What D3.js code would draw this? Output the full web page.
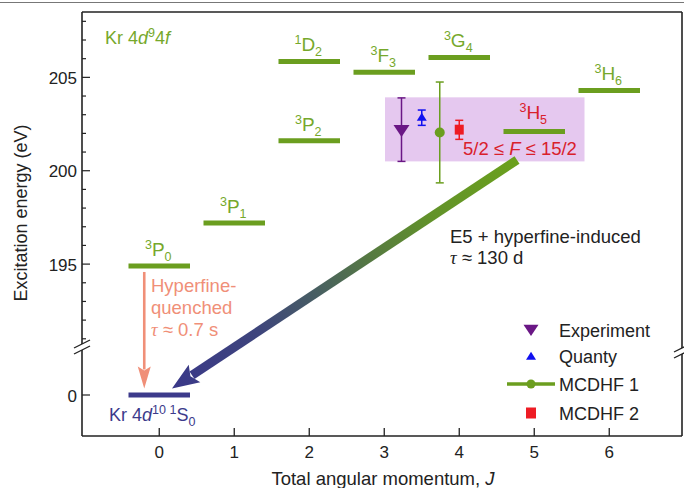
<!DOCTYPE html>
<html>
<head>
<meta charset="utf-8">
<script src="https://cdn.jsdelivr.net/npm/d3@7"></script>
<style>
body { margin: 0; background: #fff; }
svg { display: block; font-family: "Liberation Sans", Arial, sans-serif; }
</style>
</head>
<body>
<svg width="684" height="488"></svg>
<script>
// Kr 4d9 4f levels (J, energy in eV) and term symbols
const levelJ = [0, 1, 2, 2, 3, 4, 5, 6];
const levelEnergy = [194.9, 197.2, 201.6, 205.85, 205.27, 206.07, 202.1, 204.3];
const levelSup = ["3", "3", "3", "1", "3", "3", "3", "3"];
const levelLetter = ["P", "P", "P", "D", "F", "G", "H", "H"];
const levelSub = ["0", "1", "2", "2", "3", "4", "5", "6"];

// 3H5 energy determinations
const seriesNames = ["Experiment", "Quanty", "MCDHF 1", "MCDHF 2"];
const seriesJ = [3.23, 3.5, 3.74, 4.0];
const seriesEnergy = [202.15, 202.88, 202.05, 202.2];
const seriesLow = [200.5, 202.43, 199.35, 201.68];
const seriesHigh = [203.9, 203.25, 204.75, 202.7];

// shaded band for 3H5
const bandJ = [3.01, 5.67];
const bandEnergy = [200.5, 203.93];

// axis ticks
const xTicks = [0, 1, 2, 3, 4, 5, 6];
const yTicksMajor = [195, 200, 205];
const yTicksLow = [0];

const svg = d3.select("svg");
const pLeft = 82, pRight = 682, pTop = 12, pBottom = 436;
const breakLeftY = 347, breakRightY = 351;

const green = "#6b9e1f", greenText = "#76a82b", navy = "#3c3a8b",
    salmon = "#f08f78", purple = "#6a1785", red = "#d9202b";

const x = d3.scaleLinear().domain([-1.03, 6.97]).range([pLeft, pRight]);
const yTop = d3.scaleLinear().domain([190.4, 208.5]).range([350, pTop]);
const yLow = d3.scaleLinear().domain([-2.2, 2.2]).range([pBottom, 354]);

// rule above figure
svg.append("line").attr("x1", 0).attr("x2", 684).attr("y1", 2.5).attr("y2", 2.5)
    .attr("stroke", "#777").attr("stroke-width", 1.2);

// band
svg.append("rect")
    .attr("x", x(bandJ[0])).attr("y", yTop(bandEnergy[1]))
    .attr("width", x(bandJ[1]) - x(bandJ[0]))
    .attr("height", yTop(bandEnergy[0]) - yTop(bandEnergy[1]))
    .attr("fill", "#e5c8ef");

// frame
const frame = svg.append("g").attr("stroke", "#222").attr("stroke-width", 1.6).attr("fill", "none");
frame.append("line").attr("x1", pLeft).attr("x2", pRight).attr("y1", pTop).attr("y2", pTop);
frame.append("line").attr("x1", pLeft).attr("x2", pRight).attr("y1", pBottom).attr("y2", pBottom);
frame.append("line").attr("x1", pLeft).attr("x2", pLeft).attr("y1", pTop).attr("y2", breakLeftY - 3);
frame.append("line").attr("x1", pLeft).attr("x2", pLeft).attr("y1", breakLeftY + 3).attr("y2", pBottom);
frame.append("line").attr("x1", pRight).attr("x2", pRight).attr("y1", pTop).attr("y2", breakRightY - 3);
frame.append("line").attr("x1", pRight).attr("x2", pRight).attr("y1", breakRightY + 3).attr("y2", pBottom);
[[pLeft, breakLeftY], [pRight, breakRightY]].forEach(([bx, by]) => {
    [-3, 3].forEach(o => {
        frame.append("line")
            .attr("x1", bx - 8).attr("y1", by + o + 4)
            .attr("x2", bx + 8).attr("y2", by + o - 4)
            .attr("stroke-width", 1.3);
    });
});

// x ticks
const xAxis = svg.append("g");
xAxis.selectAll("line").data(xTicks).enter().append("line")
    .attr("x1", d => x(d)).attr("x2", d => x(d))
    .attr("y1", pBottom).attr("y2", pBottom - 8)
    .attr("stroke", "#222").attr("stroke-width", 1.3);
xAxis.selectAll("text").data(xTicks).enter().append("text")
    .attr("x", d => x(d)).attr("y", 458)
    .attr("text-anchor", "middle").attr("font-size", 17).attr("fill", "#222")
    .text(d => d);

// y ticks (upper segment)
const yMinor = yTop.ticks(20).filter(d => d > 190.5);
svg.append("g").selectAll("line").data(yMinor).enter().append("line")
    .attr("x1", pLeft).attr("x2", d => pLeft + (yTicksMajor.includes(d) ? 8 : 4))
    .attr("y1", d => yTop(d)).attr("y2", d => yTop(d))
    .attr("stroke", "#222").attr("stroke-width", 1.2);
svg.append("g").selectAll("text").data(yTicksMajor).enter().append("text")
    .attr("x", 77).attr("y", d => yTop(d) + 6.5)
    .attr("text-anchor", "end").attr("font-size", 17).attr("fill", "#222")
    .text(d => d);
// lower segment
svg.append("g").selectAll("line").data(yTicksLow).enter().append("line")
    .attr("x1", pLeft).attr("x2", pLeft + 8)
    .attr("y1", d => yLow(d)).attr("y2", d => yLow(d))
    .attr("stroke", "#222").attr("stroke-width", 1.2);
svg.append("g").selectAll("text").data(yTicksLow).enter().append("text")
    .attr("x", 77).attr("y", d => yLow(d) + 6.5)
    .attr("text-anchor", "end").attr("font-size", 17).attr("fill", "#222")
    .text(d => d);

// axis titles
svg.append("text")
    .attr("transform", "translate(27,213) rotate(-90)")
    .attr("text-anchor", "middle").attr("font-size", 18).attr("fill", "#222")
    .text("Excitation energy (eV)");
const xt = svg.append("text")
    .attr("x", 383).attr("y", 485)
    .attr("text-anchor", "middle").attr("font-size", 18.5).attr("fill", "#222");
xt.append("tspan").text("Total angular momentum, ");
xt.append("tspan").attr("font-style", "italic").text("J");

// level bars
const halfW = 0.41;
svg.append("g").selectAll("line").data(levelJ).enter().append("line")
    .attr("x1", d => x(d - halfW)).attr("x2", d => x(d + halfW))
    .attr("y1", (d, i) => yTop(levelEnergy[i])).attr("y2", (d, i) => yTop(levelEnergy[i]))
    .attr("stroke", green).attr("stroke-width", 5);

// term labels
function term(cx, cy, sup, letter, sub, color) {
    const t = svg.append("text").attr("x", cx).attr("y", cy)
        .attr("text-anchor", "middle").attr("fill", color).attr("font-size", 19);
    t.append("tspan").attr("font-size", 12.5).attr("dy", -7).text(sup);
    t.append("tspan").attr("dy", 7).text(letter);
    t.append("tspan").attr("font-size", 12.5).attr("dy", 5).text(sub);
    return t;
}
levelJ.forEach((j, i) => {
    const isH5 = levelLetter[i] === "H" && levelSub[i] === "5";
    term(x(j) - 1, yTop(levelEnergy[i]) - (isH5 ? 13 : 10),
        levelSup[i], levelLetter[i], levelSub[i], isH5 ? red : greenText);
});

// ground state
svg.append("line")
    .attr("x1", x(0 - halfW)).attr("x2", x(0 + halfW))
    .attr("y1", yLow(0)).attr("y2", yLow(0))
    .attr("stroke", navy).attr("stroke-width", 5);

// arrows
function arrow(x0, y0, x1, y1, width, headLen, headW, stroke) {
    const dx = x1 - x0, dy = y1 - y0, len = Math.hypot(dx, dy);
    const ux = dx / len, uy = dy / len, px = -uy, py = ux;
    const bx = x1 - ux * headLen, by = y1 - uy * headLen;
    svg.append("line")
        .attr("x1", x0).attr("y1", y0)
        .attr("x2", bx + ux * 3).attr("y2", by + uy * 3)
        .attr("stroke", stroke).attr("stroke-width", width);
    const nx = x1 - ux * headLen * 0.82, ny = y1 - uy * headLen * 0.82;
    svg.append("path")
        .attr("d", `M${x1},${y1} L${bx + px * headW / 2},${by + py * headW / 2} L${nx},${ny} L${bx - px * headW / 2},${by - py * headW / 2} Z`)
        .attr("fill", stroke);
}

// E5 decay arrow with green-to-navy gradient
const e5Start = { j: 4.77, e: 200.58 }, e5End = { j: 0.17, e: 0.35 };
const grad = svg.append("defs").append("linearGradient")
    .attr("id", "e5grad").attr("gradientUnits", "userSpaceOnUse")
    .attr("x1", x(e5Start.j)).attr("y1", yTop(e5Start.e))
    .attr("x2", x(e5End.j)).attr("y2", yLow(e5End.e));
[[0, "#6ba01d"], [0.25, "#62922a"], [0.42, "#567a40"], [0.58, "#485f62"], [0.75, "#3e457c"], [1, "#3a3889"]]
    .forEach(([o, c]) => grad.append("stop").attr("offset", o).attr("stop-color", c));
arrow(x(e5Start.j), yTop(e5Start.e), x(e5End.j), yLow(e5End.e), 9, 27, 21, "url(#e5grad)");

// hyperfine-quenched arrow
arrow(x(-0.2), yTop(levelEnergy[0]) + 6, x(-0.2), yLow(0.35), 2.6, 22, 13, salmon);

// band measurements: error bars
const capW = 4;
const seriesColor = [purple, "#1010f0", green, "#ee1c24"];
seriesJ.forEach((j, i) => {
    const g = svg.append("g").attr("stroke", seriesColor[i]).attr("stroke-width", 1.5);
    g.append("line").attr("x1", x(j)).attr("x2", x(j))
        .attr("y1", yTop(seriesHigh[i])).attr("y2", yTop(seriesLow[i]));
    [seriesHigh[i], seriesLow[i]].forEach(v => g.append("line")
        .attr("x1", x(j) - capW).attr("x2", x(j) + capW)
        .attr("y1", yTop(v)).attr("y2", yTop(v)));
});

function marker(kind, cx, cy, size, color) {
    if (kind === 0) {
        svg.append("path").attr("d", `M${cx - size},${cy - size * 0.7} L${cx + size},${cy - size * 0.7} L${cx},${cy + size * 0.8} Z`).attr("fill", color);
    } else if (kind === 1) {
        svg.append("path").attr("d", `M${cx - size},${cy + size * 0.75} L${cx + size},${cy + size * 0.75} L${cx},${cy - size * 0.85} Z`).attr("fill", color);
    } else if (kind === 2) {
        svg.append("circle").attr("cx", cx).attr("cy", cy).attr("r", size).attr("fill", color);
    } else {
        svg.append("rect").attr("x", cx - size).attr("y", cy - size * 1.1)
            .attr("width", size * 2).attr("height", size * 2.2).attr("fill", color);
    }
}
const markerSize = [8, 5, 5, 4.5];
seriesJ.forEach((j, i) => marker(i, x(j), yTop(seriesEnergy[i]), markerSize[i], seriesColor[i]));

// legend
const legendY = [330, 356, 384, 413];
const legendSize = [7.5, 5, 4.5, 5];
svg.append("line").attr("x1", 507).attr("x2", 555).attr("y1", legendY[2]).attr("y2", legendY[2])
    .attr("stroke", green).attr("stroke-width", 3.5);
seriesNames.forEach((name, i) => {
    marker(i, 531, legendY[i], legendSize[i], seriesColor[i]);
    svg.append("text").attr("x", 559).attr("y", legendY[i] + 6.5)
        .attr("font-size", 18).attr("fill", "#222").text(name);
});

// annotations
const kr = svg.append("text").attr("x", 105).attr("y", 44).attr("font-size", 18).attr("fill", greenText);
kr.append("tspan").text("Kr 4");
kr.append("tspan").attr("font-style", "italic").text("d");
kr.append("tspan").attr("font-size", 12.5).attr("dy", -7).text("9");
kr.append("tspan").attr("dy", 7).text("4");
kr.append("tspan").attr("font-style", "italic").text("f");

const gs = svg.append("text").attr("x", 109).attr("y", 421).attr("font-size", 18).attr("fill", navy);
gs.append("tspan").text("Kr 4");
gs.append("tspan").attr("font-style", "italic").text("d");
gs.append("tspan").attr("font-size", 12.5).attr("dy", -7).text("10 1");
gs.append("tspan").attr("dy", 7).text("S");
gs.append("tspan").attr("font-size", 12.5).attr("dy", 5).text("0");

const fRange = svg.append("text").attr("x", 463).attr("y", 155).attr("font-size", 18.5).attr("fill", red);
fRange.append("tspan").text("5/2 \u2264 ");
fRange.append("tspan").attr("font-style", "italic").text("F");
fRange.append("tspan").text(" \u2264 15/2");

const hq = svg.append("g").attr("fill", salmon).attr("font-size", 18.5);
hq.append("text").attr("x", 151).attr("y", 292).text("Hyperfine-");
hq.append("text").attr("x", 151).attr("y", 314).text("quenched");
const hqt = hq.append("text").attr("x", 151).attr("y", 336);
hqt.append("tspan").attr("font-family", "Liberation Serif, serif").attr("font-style", "italic").text("\u03c4");
hqt.append("tspan").text(" \u2248 0.7 s");

const e5 = svg.append("g").attr("fill", "#222").attr("font-size", 18.5);
e5.append("text").attr("x", 450).attr("y", 243).text("E5 + hyperfine-induced");
const e5t = e5.append("text").attr("x", 450).attr("y", 264);
e5t.append("tspan").attr("font-family", "Liberation Serif, serif").attr("font-style", "italic").text("\u03c4");
e5t.append("tspan").text(" \u2248 130 d");
</script>
</body>
</html>
